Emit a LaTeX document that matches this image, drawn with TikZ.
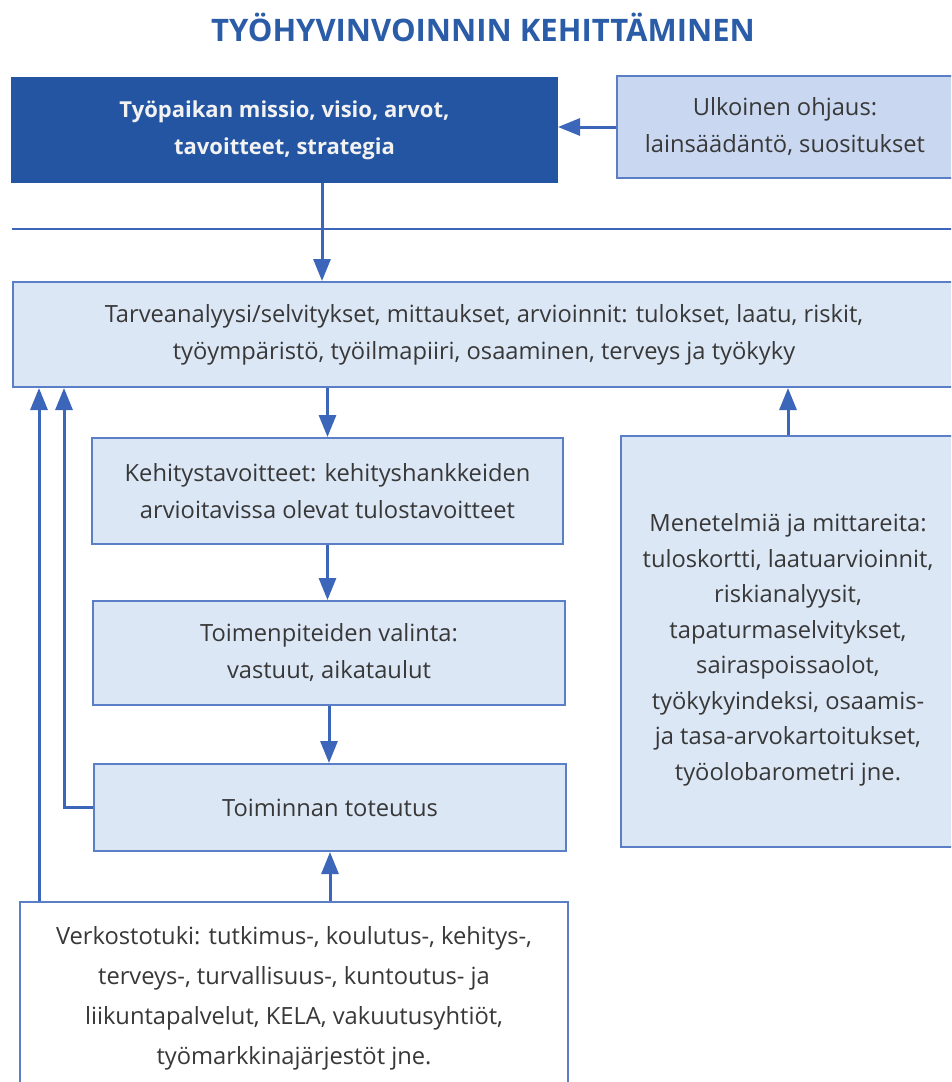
\documentclass[tikz,border=0pt]{standalone}
\usepackage{fontspec}
\setmainfont{Open Sans}
\usetikzlibrary{arrows.meta,calc}
\definecolor{darkfill}{HTML}{2455A3}
\definecolor{lineblue}{HTML}{3B66BA}
\definecolor{lightfill}{HTML}{DCE7F6}
\definecolor{extfill}{HTML}{C9D8F0}
\definecolor{bordercol}{HTML}{5A7FC6}
\definecolor{textgray}{HTML}{383838}
\definecolor{titleblue}{HTML}{2A5CA8}
\definecolor{paletext}{HTML}{F2F2F2}
\tikzset{
  box/.style={draw=bordercol, line width=2pt, fill=lightfill, rectangle, inner sep=0pt,
    align=center, text=textgray, font=\fontsize{23.7}{37}\selectfont},
  arr/.style={draw=lineblue, line width=3pt, line join=miter,
    -{Triangle[length=22pt,width=17pt]}},
  rule/.style={draw=lineblue, line width=2.5pt}
}
\begin{document}
\begin{tikzpicture}[x=1pt,y=-1pt]
\fill[white] (0,0) rectangle (951,1082);
\useasboundingbox (0,0) rectangle (951,1082);
\begin{scope}
\clip (0,0) rectangle (951,1082);
\node[font=\fontsize{31}{31}\selectfont\bfseries, text=titleblue] (title) at (483,27) {TYÖHYVINVOINNIN KEHITTÄMINEN};
\node[box, fill=darkfill, draw=darkfill, text=paletext, font=\fontsize{22}{37}\selectfont\bfseries, minimum width=545pt, minimum height=104pt] (dark) at (284.5,130) {Työpaikan missio, visio, arvot,\\tavoitteet, strategia};
\node[box, fill=extfill, minimum width=336pt, minimum height=102pt] (ext) at (785,127) {Ulkoinen ohjaus:\\lainsäädäntö, suositukset};
\coordinate (hl) at (12,229);
\coordinate (hr) at (960,229);
\draw[rule] (hl) -- (hr);
\node[box, minimum width=942pt, minimum height=105pt] (tarve) at (484,334.5) {Tarveanalyysi/selvitykset, mittaukset, arvioinnit: tulokset, laatu, riskit,\\työympäristö, työilmapiiri, osaaminen, terveys ja työkyky};
\node[box, minimum width=471pt, minimum height=106pt] (kehit) at (327.5,491) {Kehitystavoitteet: kehityshankkeiden\\arvioitavissa olevat tulostavoitteet};
\node[box, minimum width=472pt, minimum height=104pt] (toimen) at (329,653) {Toimenpiteiden valinta:\\vastuut, aikataulut};
\node[box, minimum width=472pt, minimum height=87pt] (toimin) at (330,807.5) {Toiminnan toteutus};
\node[box, fill=white, minimum width=548pt, minimum height=198pt] (verk) at (294,1001) {};
\node[align=center, text=textgray, font=\fontsize{23.7}{40}\selectfont] (verktext) at (294,998) {Verkostotuki: tutkimus-, koulutus-, kehitys-,\\terveys-, turvallisuus-, kuntoutus- ja\\liikuntapalvelut, KELA, vakuutusyhtiöt,\\työmarkkinajärjestöt jne.};
\node[box, minimum width=334pt, minimum height=411pt] (menet) at (788,641.5) {};
\node[align=center, text=textgray, font=\fontsize{23.7}{35.5}\selectfont] (menettext) at (788,650) {Menetelmiä ja mittareita:\\tuloskortti, laatuarvioinnit,\\riskianalyysit,\\tapaturmaselvitykset,\\sairaspoissaolot,\\työkykyindeksi, osaamis-\\ja tasa-arvokartoitukset,\\työolobarometri jne.};
\coordinate (c1) at (322,0);
\coordinate (L1) at (39,0);
\coordinate (L2) at (64,0);
\draw[arr] (ext.west) -- (ext.west -| dark.east);
\draw[arr] (dark.south -| c1) -- (tarve.north -| c1);
\draw[arr] (tarve.south -| kehit.north) -- (kehit.north);
\draw[arr] (kehit.south) -- (toimen.north -| kehit.south);
\draw[arr] (toimen.south) -- (toimin.north -| toimen.south);
\draw[arr] (verk.north -| toimin.south) -- (toimin.south);
\draw[arr] (menet.north) -- (tarve.south -| menet.north);
\draw[arr] (verk.north -| L1) -- (tarve.south -| L1);
\draw[arr] (toimin.west) -- (toimin.west -| L2) -- (tarve.south -| L2);
\end{scope}
\end{tikzpicture}
\end{document}
